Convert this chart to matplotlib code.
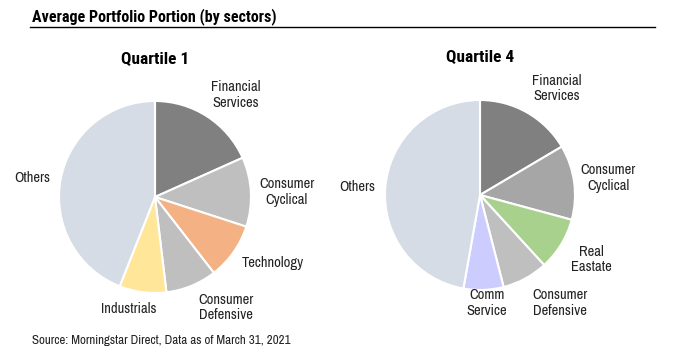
import matplotlib
matplotlib.use("Agg")
import matplotlib.pyplot as plt
from matplotlib import font_manager

# ---- data ----
q1_labels = ["Financial\nServices", "Consumer\nCyclical", "Technology", "Consumer\nDefensive", "Industrials", "Others"]
q1_values = [18.3, 11.7, 9.5, 8.6, 7.9, 44.0]
q1_colors = ["#808080", "#BFBFBF", "#F4B183", "#BFBFBF", "#FFE699", "#D6DCE5"]

q4_labels = ["Financial\nServices", "Consumer\nCyclical", "Real\nEastate", "Consumer\nDefensive", "Comm\nService", "Others"]
q4_values = [16.5, 12.7, 9.0, 7.8, 6.8, 47.2]
q4_colors = ["#808080", "#A6A6A6", "#A9D18E", "#BFBFBF", "#CCCCFF", "#D6DCE5"]

# label positions (in pie-radius units)
q1_label_pos = [(0.84, 1.06), (1.375, 0.05), (1.23, -0.69), (0.74, -1.15), (-0.27, -1.17), (-1.28, 0.20)]
q4_label_pos = [(0.81, 1.12), (1.35, 0.18), (1.17, -0.68), (0.84, -1.14), (0.07, -1.14), (-1.29, 0.08)]

fonts = font_manager.fontManager.ttflist
names = {f.name for f in fonts}
bold_names = {f.name for f in fonts if (f.weight if isinstance(f.weight, int) else 400) >= 700 or f.weight == 'bold'}

narrow = "DejaVu Sans"
for cand in ["Liberation Sans Narrow", "Arial Narrow", "Archivo Narrow", "Roboto Condensed", "Barlow Semi Condensed"]:
    if cand in names:
        narrow = cand
        break
narrow_bold = "DejaVu Sans"
for cand in ["Liberation Sans Narrow", "Arial Narrow", "Roboto Condensed", "Asap Condensed", "Barlow Semi Condensed", "Barlow Condensed"]:
    if cand in bold_names:
        narrow_bold = cand
        break
plt.rcParams['font.family'] = [narrow, 'DejaVu Sans']

W, H = 680, 355
fig = plt.figure(figsize=(W / 100, H / 100), dpi=100)


def draw(cx, cy, r, values, colors, labels, pos, title, title_y):
    ax = fig.add_axes([(cx - r) / W, (H - cy - r) / H, 2 * r / W, 2 * r / H])
    ax.pie(values, colors=colors, startangle=90, counterclock=False, radius=1,
           wedgeprops=dict(edgecolor="white", linewidth=1.5))
    ax.set_xlim(-1, 1)
    ax.set_ylim(-1, 1)
    ax.set_aspect("equal")
    ax.axis("off")
    for lab, (x, y) in zip(labels, pos):
        ax.text(x, y, lab, ha="center", va="center", fontsize=10.5,
                color="#222222", linespacing=1.15, clip_on=False)
    fig.text(cx / W, 1 - title_y / H, title, ha="center", va="center",
             fontsize=12.5, fontweight="bold", color="black",
             family=[narrow_bold, 'DejaVu Sans'])


draw(155, 197, 96, q1_values, q1_colors, q1_labels, q1_label_pos, "Quartile 1", 59)
draw(480, 195, 95, q4_values, q4_colors, q4_labels, q4_label_pos, "Quartile 4", 57)

fig.text(32 / W, 1 - 17 / H, "Average Portfolio Portion (by sectors)", ha="left", va="center",
         fontsize=11.5, fontweight="bold", color="black", family=[narrow_bold, 'DejaVu Sans'])
fig.add_artist(plt.Line2D([30 / W, 655 / W], [1 - 27 / H, 1 - 27 / H], color="black", linewidth=1))
fig.text(32 / W, 1 - 341 / H, "Source: Morningstar Direct, Data as of March 31, 2021", ha="left", va="center",
         fontsize=9.3, color="#222222")

fig.savefig("out.png", dpi=100)
